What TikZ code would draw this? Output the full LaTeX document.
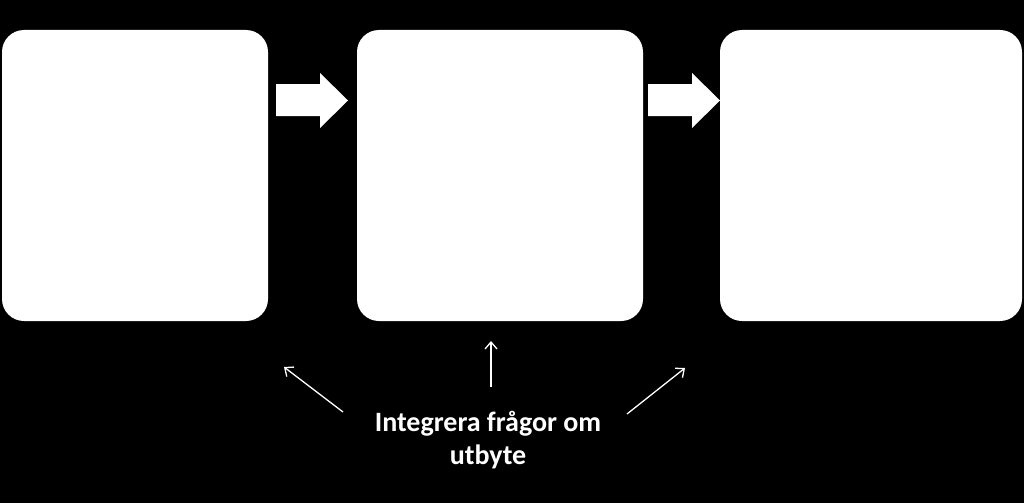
\documentclass[tikz,border=0pt]{standalone}
\usepackage{fontspec}
\setmainfont{Carlito}
\usetikzlibrary{arrows.meta}
\begin{document}
\begin{tikzpicture}[x=1pt,y=-1pt,
  box/.style={fill=white,rounded corners=22pt},
  blockarrow/.style={fill=white},
  thin/.style={draw=white,line width=1.3pt,-{Straight Barb[length=7pt,width=12pt]}}]
\useasboundingbox[fill=black] (0,0) rectangle (1024,503);
\fill[box] (2,30) rectangle (268,321);
\fill[box] (357,30) rectangle (643,321);
\fill[box] (720,30) rectangle (1022,321);
\fill[blockarrow] (276,84) -- (320,84) -- (320,73) -- (348,100.5) -- (320,128) -- (320,116) -- (276,116) -- cycle;
\fill[blockarrow] (648,84) -- (692,84) -- (692,73) -- (720,100.5) -- (692,128) -- (692,116) -- (648,116) -- cycle;
\node[text=white,font=\bfseries\fontsize{28}{33}\selectfont,align=center] (t) at (488,440) {Integrera frågor om\\utbyte};
\coordinate (s1) at (343,412);
\coordinate (e1) at (284,367);
\coordinate (s2) at (491,387);
\coordinate (e2) at (491,341);
\coordinate (s3) at (627,414);
\coordinate (e3) at (685,368);
\draw[thin] (s1) -- (e1);
\draw[thin] (s2) -- (e2);
\draw[thin] (s3) -- (e3);
\end{tikzpicture}
\end{document}
